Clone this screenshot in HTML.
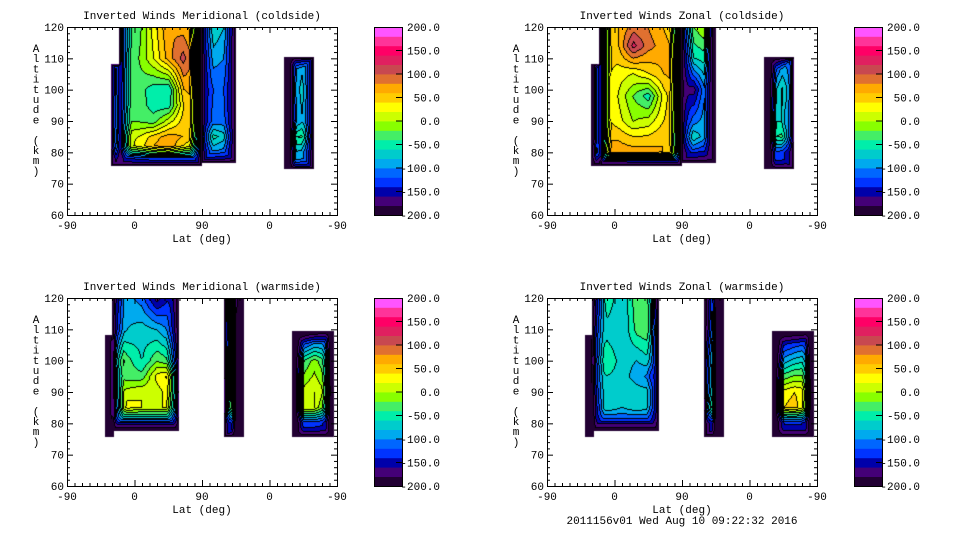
<!DOCTYPE html>
<html><head><meta charset="utf-8">
<style>
body{margin:0;background:#fff;width:960px;height:540px;overflow:hidden;position:relative;font-family:"Liberation Mono",monospace;}
canvas{position:absolute;}
svg{position:absolute;left:0;top:0;}
</style></head>
<body>
<svg id="axes" width="960" height="540"></svg>
<script>
// ---- data ----
const colorLevels = ["#220033","#440077","#0000aa","#0033ff","#0066ff","#00aaee","#00cccc","#00eeaa","#44ee66","#88ff00","#ccff00","#ffff00","#ffcc00","#ffaa00","#e07030","#c84850","#e02060","#ff0066","#ff3399","#ff55ff"];
const cbTicks = [200,150,100,50,0,-50,-100,-150,-200];
const xTickLabels = ["-90","0","90","0","-90"];
const yTickValues = [60,70,80,90,100,110,120];
const panelTitles = ["Inverted Winds Meridional (coldside)","Inverted Winds Zonal (coldside)","Inverted Winds Meridional (warmside)","Inverted Winds Zonal (warmside)"];

const coldA_rects = [[71,178,76,130],[60,71,76,108]];
const coldB_rects = [[180,224,77,130]];
const coldC_rects = [[291,328,75,110]];
const coldA_cols = [62,75,95,115,135,155,175];
const coldB_cols = [182,195,210,222];
const coldC_cols = [295,305,318,326];
const warmA_rects = [[61,148,78,130],[52,61,76,108]];
const warmB_rects = [[211,235,76,130]];
const warmC_rects = [[301,355,76,109]];
const warmA_cols = [55,65,80,100,120,140,147];
const warmB_cols = [213,220,226,233];
const warmC_cols = [303,315,330,345,353];

const p1A_rows=[120,110,100,95,90,85,82,78];
const p1A=[[-80,-50,-30,30,80,70,40],[-60,-40,-20,20,70,110,60],[-50,-30,-30,-50,-60,60,70],[-40,-25,-25,-50,-50,40,70],[-40,-20,-20,-30,10,50,60],[-30,10,20,50,70,60,40],[-40,0,30,60,80,40,10],[-120,-120,-110,-100,-100,-100,-100]];
const pB_rows=[120,110,100,90,85,80];
const p1B=[[-80,-60,-80,-120],[-100,-90,-100,-120],[-110,-120,-120,-130],[-110,-110,-110,-130],[-60,-50,-70,-110],[-100,-100,-110,-130]];
const p1C_rows=[110,100,90,85,80];
const p1C=[[-200,-100,-80,-90],[-200,-90,-60,-90],[-200,-100,-70,-90],[-200,-40,-30,-80],[-200,-80,-90,-100]];

const p2A_rows=[120,114,105,98,90,84,80,77];
const p2A=[[-150,40,60,90,80,60,40],[-150,40,60,130,90,70,50],[-150,50,30,20,40,60,70],[-150,60,20,-20,-50,30,70],[-150,50,30,0,10,40,60],[-150,60,60,50,50,60,40],[-100,80,70,70,70,60,50],[-150,-120,-120,-110,-110,-110,-110]];
const p2B=[[-60,-20,0,-160],[-110,-60,-50,-160],[-140,-170,-100,-160],[-100,-110,-90,-160],[-70,-60,-90,-160],[-130,-130,-140,-160]];
const p2C=[[-200,-140,-90,-30],[-200,-80,-40,0],[-200,-60,-60,-20],[-200,-40,-30,-30],[-200,-120,-130,-120]];

const wA_rows=[120,110,100,95,90,85,82,79];
const p3A=[[-200,-120,-90,-110,-170,-130,-140],[-200,-100,-80,-70,-80,-110,-130],[-200,20,-30,-60,-20,-40,-60],[-200,-10,-30,-30,30,50,60],[-200,-10,10,20,10,40,70],[-200,-30,30,20,20,20,50],[-200,-60,-60,-60,-60,-60,-60],[-200,-150,-150,-150,-150,-150,-150]];
const p3B=[[-60,20,-150,-200],[-40,30,-200,-200],[-30,40,-200,-200],[30,70,-200,-200],[80,60,-200,-200],[-100,-120,-200,-200]];
const wC_rows=[109,100,90,85,80];
const p3C=[[-200,-180,-150,-140,-200],[-200,-40,-10,-40,-200],[-200,10,20,0,-200],[-200,20,20,-30,-200],[-200,-130,-130,-140,-200]];

const p4A=[[-200,-120,-40,-80,-20,-30,-120],[-200,-80,-70,-80,-30,-20,-90],[-200,-60,-40,-70,-80,-60,-70],[-200,-70,-60,-70,-90,-110,-80],[-200,-80,-70,-60,-70,-70,-80],[-200,-100,-60,-80,-60,-80,-80],[-200,-110,-110,-110,-110,-110,-110],[-200,-150,-150,-150,-150,-150,-150]];
const p4B=[[-140,-100,-200,-200],[-120,-70,-200,-200],[-40,-40,-200,-200],[-20,-20,-200,-200],[40,20,-200,-200],[-130,-130,-200,-200]];
const p4C=[[-200,-180,-170,-160,-200],[-200,-90,-70,-60,-200],[-200,30,40,30,-200],[-200,40,50,20,-200],[-200,-140,-140,-140,-200]];

const panels=[
 {x:67,y:27,blocks:[[coldA_rects,coldA_cols,p1A_rows,p1A],[coldB_rects,coldB_cols,pB_rows,p1B],[coldC_rects,coldC_cols,p1C_rows,p1C]]},
 {x:547,y:27,blocks:[[coldA_rects,coldA_cols,p2A_rows,p2A],[coldB_rects,coldB_cols,pB_rows,p2B],[coldC_rects,coldC_cols,p1C_rows,p2C]]},
 {x:67,y:298,blocks:[[warmA_rects,warmA_cols,wA_rows,p3A],[warmB_rects,warmB_cols,pB_rows,p3B],[warmC_rects,warmC_cols,wC_rows,p3C]]},
 {x:547,y:298,blocks:[[warmA_rects,warmA_cols,wA_rows,p4A],[warmB_rects,warmB_cols,pB_rows,p4B],[warmC_rects,warmC_cols,wC_rows,p4C]]}
];

const W=270,H=188;
function xScale(u){return u*W/360;}
function yScale(a){return (120-a)*H/60;}
function interp1(arr,v){
  const n=arr.length; const desc=arr[0]>arr[n-1];
  if((!desc&&v<=arr[0])||(desc&&v>=arr[0]))return [0,0];
  for(let i=0;i<n-1;i++){
    const a=arr[i],b=arr[i+1];
    if((!desc&&v<=b)||(desc&&v>=b)){let t=(v-a)/(b-a);return [i,Math.max(0,Math.min(1,t))];}
  }
  return [n-2,1];
}
const PAD=1,R=12;
function blockValue(b,px,py){
  const [rects,cols,rows,grid]=b;
  let d=-1;
  for(const r of rects){
    const x0=xScale(r[0])-PAD,x1=xScale(r[1])+PAD,y0=yScale(r[3])-PAD,y1=yScale(r[2])+PAD;
    if(px>=x0&&px<=x1&&py>=y0&&py<=y1){d=Math.max(d,Math.min(px-x0,x1-px,py-y0,y1-py));}
  }
  if(d<0)return null;
  const u=px*360/W,a=120-py*60/H;
  const [i,t]=interp1(cols,u),[j,s]=interp1(rows,a);
  const v=(1-s)*((1-t)*grid[j][i]+t*grid[j][i+1])+s*((1-t)*grid[j+1][i]+t*grid[j+1][i+1]);
  return d<R? -200+(v+200)*Math.pow(d/R,0.6):v;
}
function hex(c){return [parseInt(c.substr(1,2),16),parseInt(c.substr(3,2),16),parseInt(c.substr(5,2),16)];}
const rgb=colorLevels.map(hex);

panels.forEach((p,k)=>{
  const cv=document.createElement('canvas');
  
  
  cv.width=W;cv.height=H;cv.style.left=p.x+'px';cv.style.top=p.y+'px';
  document.body.appendChild(cv);
  const ctx=cv.getContext('2d');const img=ctx.createImageData(W,H);
  const lev=new Int16Array(W*H).fill(-1);
  for(let y=0;y<H;y++)for(let x=0;x<W;x++){
    let v=null;for(const b of p.blocks){const r=blockValue(b,x+0.5,y+0.5);if(r!==null){v=r;break;}}
    if(v!==null)lev[y*W+x]=Math.max(0,Math.min(19,Math.floor((v+200)/20)));
  }
  for(let y=0;y<H;y++)for(let x=0;x<W;x++){
    const i=y*W+x,l=lev[i];let c=[255,255,255];
    if(l>=0){c=rgb[l];
      if((x>0&&lev[i-1]>=0&&lev[i-1]<l)||(y>0&&lev[i-W]>=0&&lev[i-W]<l)||(x<W-1&&lev[i+1]>=0&&lev[i+1]<l)||(y<H-1&&lev[i+W]>=0&&lev[i+W]<l))c=[0,0,0];}
    img.data[i*4]=c[0];img.data[i*4+1]=c[1];img.data[i*4+2]=c[2];img.data[i*4+3]=255;
  }
  ctx.putImageData(img,0,0);
});

// ---- axes ----
const svg=document.getElementById('axes');
const NS='http://www.w3.org/2000/svg';
function el(tag,attrs,parent){const e=document.createElementNS(NS,tag);for(const k in attrs)e.setAttribute(k,attrs[k]);(parent||svg).appendChild(e);return e;}
svg.parentNode.appendChild(svg);
panels.forEach((p,k)=>{
  const g=el('g',{});
  
  
  const box=el('rect',{x:p.x+0.5,y:p.y+0.5,width:W,height:H,fill:'none',stroke:'#000','stroke-width':1},g);
  
  
  for(let u=0;u<=360;u+=10){const x=p.x+0.5+xScale(u);const len=(u%90===0)?6:3;
    el('line',{x1:x,x2:x,y1:p.y+H,y2:p.y+H-len,stroke:'#000'},g);el('line',{x1:x,x2:x,y1:p.y,y2:p.y+len,stroke:'#000'},g);}
  for(let a=60;a<=120;a+=2){const y=p.y+0.5+yScale(a);const len=(a%10===0)?6:3;
    el('line',{x1:p.x,x2:p.x+len,y1:y,y2:y,stroke:'#000'},g);el('line',{x1:p.x+W,x2:p.x+W-len,y1:y,y2:y,stroke:'#000'},g);}
  xTickLabels.forEach((t,i)=>{const tx=el('text',{x:p.x+xScale(i*90),y:p.y+H+14,'font-size':11,'text-anchor':'middle'},g);tx.textContent=t;
    });
  yTickValues.forEach(a=>{const tx=el('text',{x:p.x-3,y:p.y+yScale(a)+4,'font-size':11,'text-anchor':'end'},g);tx.textContent=a;
    });
  const ti=el('text',{x:p.x+135,y:p.y-8,'font-size':11,'text-anchor':'middle'},g);ti.textContent=panelTitles[k];
  
  const xl=el('text',{x:p.x+135,y:p.y+H+27,'font-size':11,'text-anchor':'middle'},g);xl.textContent='Lat (deg)';
  
  const yl=el('text',{x:p.x-31,y:p.y+25,'font-size':11,'text-anchor':'middle'},g);
  
  'Altitude (km)'.split('').forEach((ch,i)=>{const ts=el('tspan',{x:p.x-31,y:p.y+25+i*10.2},yl);ts.textContent=ch;});
  const cbx=p.x+307,cbh=H,cby=p.y;
  const cb=el('g',{},svg);
  
  colorLevels.forEach((c,i)=>{el('rect',{x:cbx,y:cby+cbh-(i+1)*cbh/20,width:28,height:cbh/20+0.4,fill:c},cb);});
  el('rect',{x:cbx+0.5,y:cby+0.5,width:28,height:cbh,fill:'none',stroke:'#000'},cb);
  cbTicks.forEach((v,i)=>{const y=cby+(200-v)/400*cbh;
    if(v!==200&&v!==-200)el('line',{x1:cbx+22,x2:cbx+28,y1:y,y2:y,stroke:'#000'},cb);
    const tx=el('text',{x:cbx+66,y:y+4,'font-size':11,'text-anchor':'end'},cb);tx.textContent=v.toFixed(1);
    });
});
const ft=el('text',{x:682,y:524,'font-size':11,'text-anchor':'middle'});
ft.textContent='2011156v01 Wed Aug 10 09:22:32 2016';

</script>
</body></html>
